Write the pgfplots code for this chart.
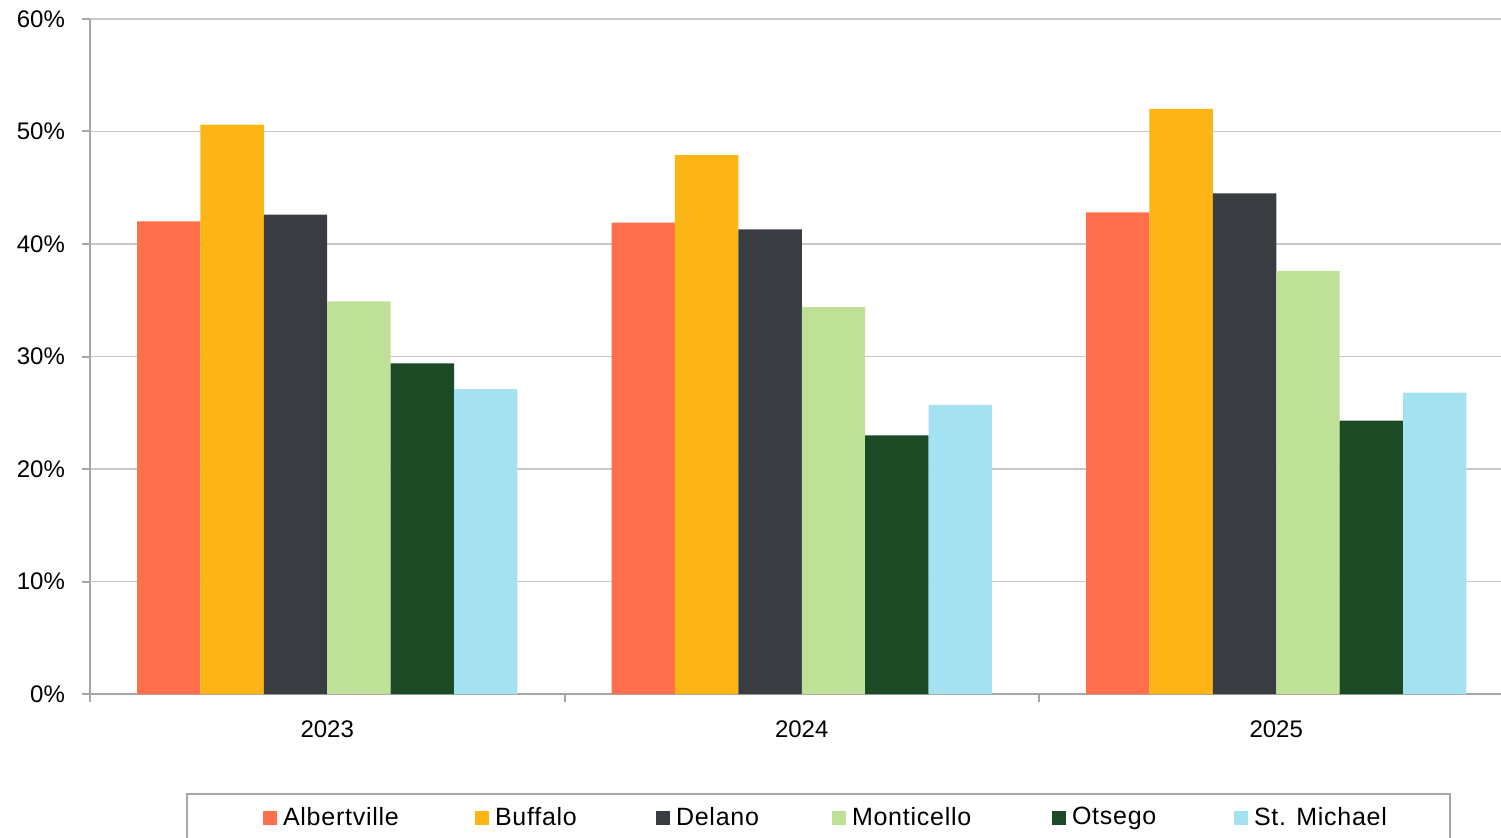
\documentclass[border=0pt]{standalone}
\usepackage{pgfplots}
\pgfplotsset{compat=1.18}
\usepackage{fontspec}
\setmainfont{Liberation Sans}
\definecolor{cA}{HTML}{FF6F4B}
\definecolor{cB}{HTML}{FDB515}
\definecolor{cD}{HTML}{393D41}
\definecolor{cM}{HTML}{BEE097}
\definecolor{cO}{HTML}{1B4A25}
\definecolor{cS}{HTML}{A5E2F1}
\definecolor{axgray}{HTML}{A6A6A6}
\definecolor{gridgray}{HTML}{C8C8C8}
\begin{document}
\begin{tikzpicture}
\useasboundingbox (0,0) rectangle (750.5pt,418.5pt);
\begin{axis}[
  at={(45pt,71.5pt)}, anchor=south west,
  scale only axis, width=711.75pt, height=337.5pt,
  ybar=0pt, bar width=31.7pt,
  xmin=-0.5, xmax=2.5, ymin=0, ymax=60,
  axis x line*=bottom, axis y line*=left,
  axis line style={axgray, line width=1pt},
  xtick={0,1,2}, xticklabels={2023,2024,2025},
  minor xtick={-0.5,0.5,1.5,2.5},
  major x tick style={draw=none},
  minor x tick style={axgray, line width=1pt},
  minor tick length=4pt,
  ytick={0,10,20,30,40,50,60},
  yticklabels={0\%,10\%,20\%,30\%,40\%,50\%,60\%},
  major y tick style={axgray, line width=1pt},
  major tick length=4pt,
  tick align=outside,
  ymajorgrids, grid style={gridgray, line width=0.7pt},
  ticklabel style={font=\fontsize{12}{14}\selectfont, text=black},
  xticklabel style={yshift=-6pt},
  yticklabel style={xshift=-5pt},
  legend columns=6,
  legend style={at={(0.06744,-0.14667)}, anchor=north west,
    draw=axgray, line width=1pt, inner xsep=38pt, inner ysep=5pt,
    font=\fontsize{12.5}{14}\selectfont\addfontfeature{LetterSpace=3},
    nodes={inner sep=1.5pt}},
  legend image code/.code={\fill[#1, draw=none] (0pt,-3.5pt) rectangle (7pt,3.5pt);},
]
\addplot[fill=cA, draw=none] coordinates {(0,42.0) (1,41.9) (2,42.8)};
\addplot[fill=cB, draw=none] coordinates {(0,50.6) (1,47.9) (2,52.0)};
\addplot[fill=cD, draw=none] coordinates {(0,42.6) (1,41.3) (2,44.5)};
\addplot[fill=cM, draw=none] coordinates {(0,34.9) (1,34.4) (2,37.6)};
\addplot[fill=cO, draw=none] coordinates {(0,29.4) (1,23.0) (2,24.3)};
\addplot[fill=cS, draw=none] coordinates {(0,27.1) (1,25.7) (2,26.8)};
\legend{\makebox[96pt][l]{\hspace{1.5pt}Albertville},\makebox[80.5pt][l]{\hspace{1.5pt}Buffalo},\makebox[78pt][l]{\hspace{1.5pt}Delano},\makebox[100pt][l]{\hspace{1.5pt}Monticello},\makebox[81pt][l]{\hspace{1.5pt}Otsego},\makebox[60pt][l]{\hspace{1.5pt}St. Michael}}
\end{axis}
\end{tikzpicture}
\end{document}
